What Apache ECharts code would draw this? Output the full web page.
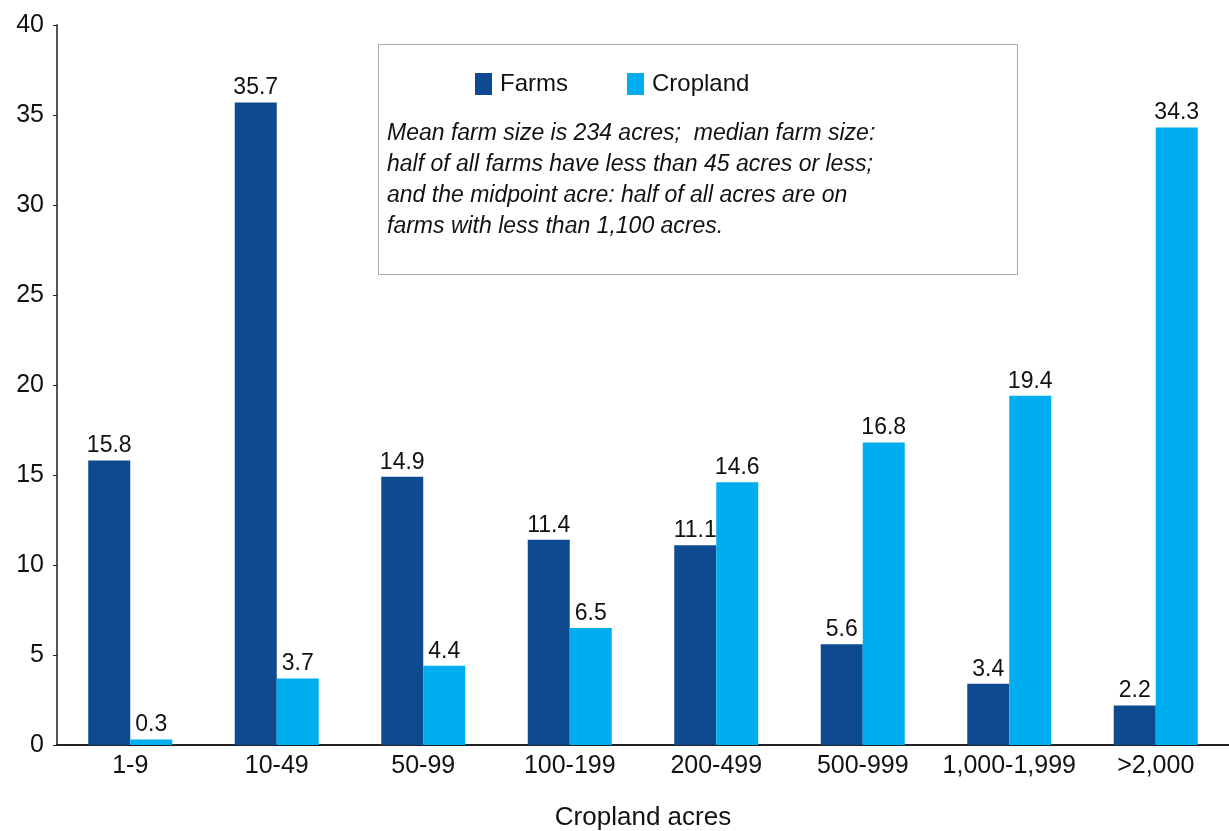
<!DOCTYPE html>
<html>
<head>
<meta charset="utf-8">
<script src="https://cdn.jsdelivr.net/npm/echarts@6/dist/echarts.min.js"></script>
<style>
  html, body { margin: 0; padding: 0; background: #fff; }
  #box { width: 1229px; height: 831px; }
</style>
</head>
<body>
<div id="box"></div>
<script>
const categories = ['1-9', '10-49', '50-99', '100-199', '200-499', '500-999', '1,000-1,999', '>2,000'];
const farms = [15.8, 35.7, 14.9, 11.4, 11.1, 5.6, 3.4, 2.2];
const cropland = [0.3, 3.7, 4.4, 6.5, 14.6, 16.8, 19.4, 34.3];
const yTicks = { min: 0, max: 40, interval: 5 };
const noteLines = [
    'Mean farm size is 234 acres;  median farm size:',
    'half of all farms have less than 45 acres or less;',
    'and the midpoint acre: half of all acres are on',
    'farms with less than 1,100 acres.'
];

const font = '"Liberation Sans", Arial, sans-serif';
let myChart = echarts.init(document.getElementById('box'));

let barLabel = {
    show: true,
    position: 'top',
    color: '#111',
    fontSize: 23,
    fontFamily: font,
    distance: 3
};

let option = {
    animation: false,
    textStyle: { fontFamily: font },
    grid: { left: 57, right: 0, top: 25, bottom: 86, containLabel: false, outerBoundsMode: 'none' },
    legend: {
        top: 67,
        left: 470,
        icon: 'rect',
        itemWidth: 17,
        itemHeight: 22,
        itemGap: 59,
        textStyle: { fontSize: 24, color: '#111', fontFamily: font, padding: [0, 0, 0, 3] },
        data: ['Farms', 'Cropland']
    },
    graphic: [
        {
            type: 'rect',
            shape: { x: 378.5, y: 44.5, width: 639, height: 230 },
            style: { fill: 'none', stroke: '#aaa', lineWidth: 1 },
            z: 0
        },
        {
            type: 'text',
            left: 387,
            top: 118,
            style: {
                text: noteLines.join('\n'),
                font: 'italic 23px ' + font,
                fill: '#111',
                lineHeight: 31
            }
        }
    ],
    xAxis: {
        type: 'category',
        data: categories,
        name: 'Cropland acres',
        nameLocation: 'middle',
        nameGap: 60,
        nameTextStyle: { fontSize: 26, color: '#111' },
        axisLine: { lineStyle: { color: '#222', width: 2 } },
        axisTick: { show: false },
        axisLabel: { fontSize: 25, color: '#111', margin: 9, interval: 0 }
    },
    yAxis: {
        type: 'value',
        min: yTicks.min,
        max: yTicks.max,
        interval: yTicks.interval,
        axisLine: { show: true, lineStyle: { color: '#555', width: 2 } },
        axisTick: { show: true, length: 4, lineStyle: { color: '#222' } },
        splitLine: { show: false },
        axisLabel: { fontSize: 25, color: '#111', margin: 13 }
    },
    series: [
        {
            name: 'Farms',
            type: 'bar',
            data: farms,
            barWidth: 42,
            barGap: '0%',
            itemStyle: { color: '#0d4a8f' },
            label: barLabel
        },
        {
            name: 'Cropland',
            type: 'bar',
            data: cropland,
            barWidth: 42,
            itemStyle: { color: '#00aeef' },
            label: barLabel
        }
    ]
};
myChart.setOption(option);
</script>
</body>
</html>
